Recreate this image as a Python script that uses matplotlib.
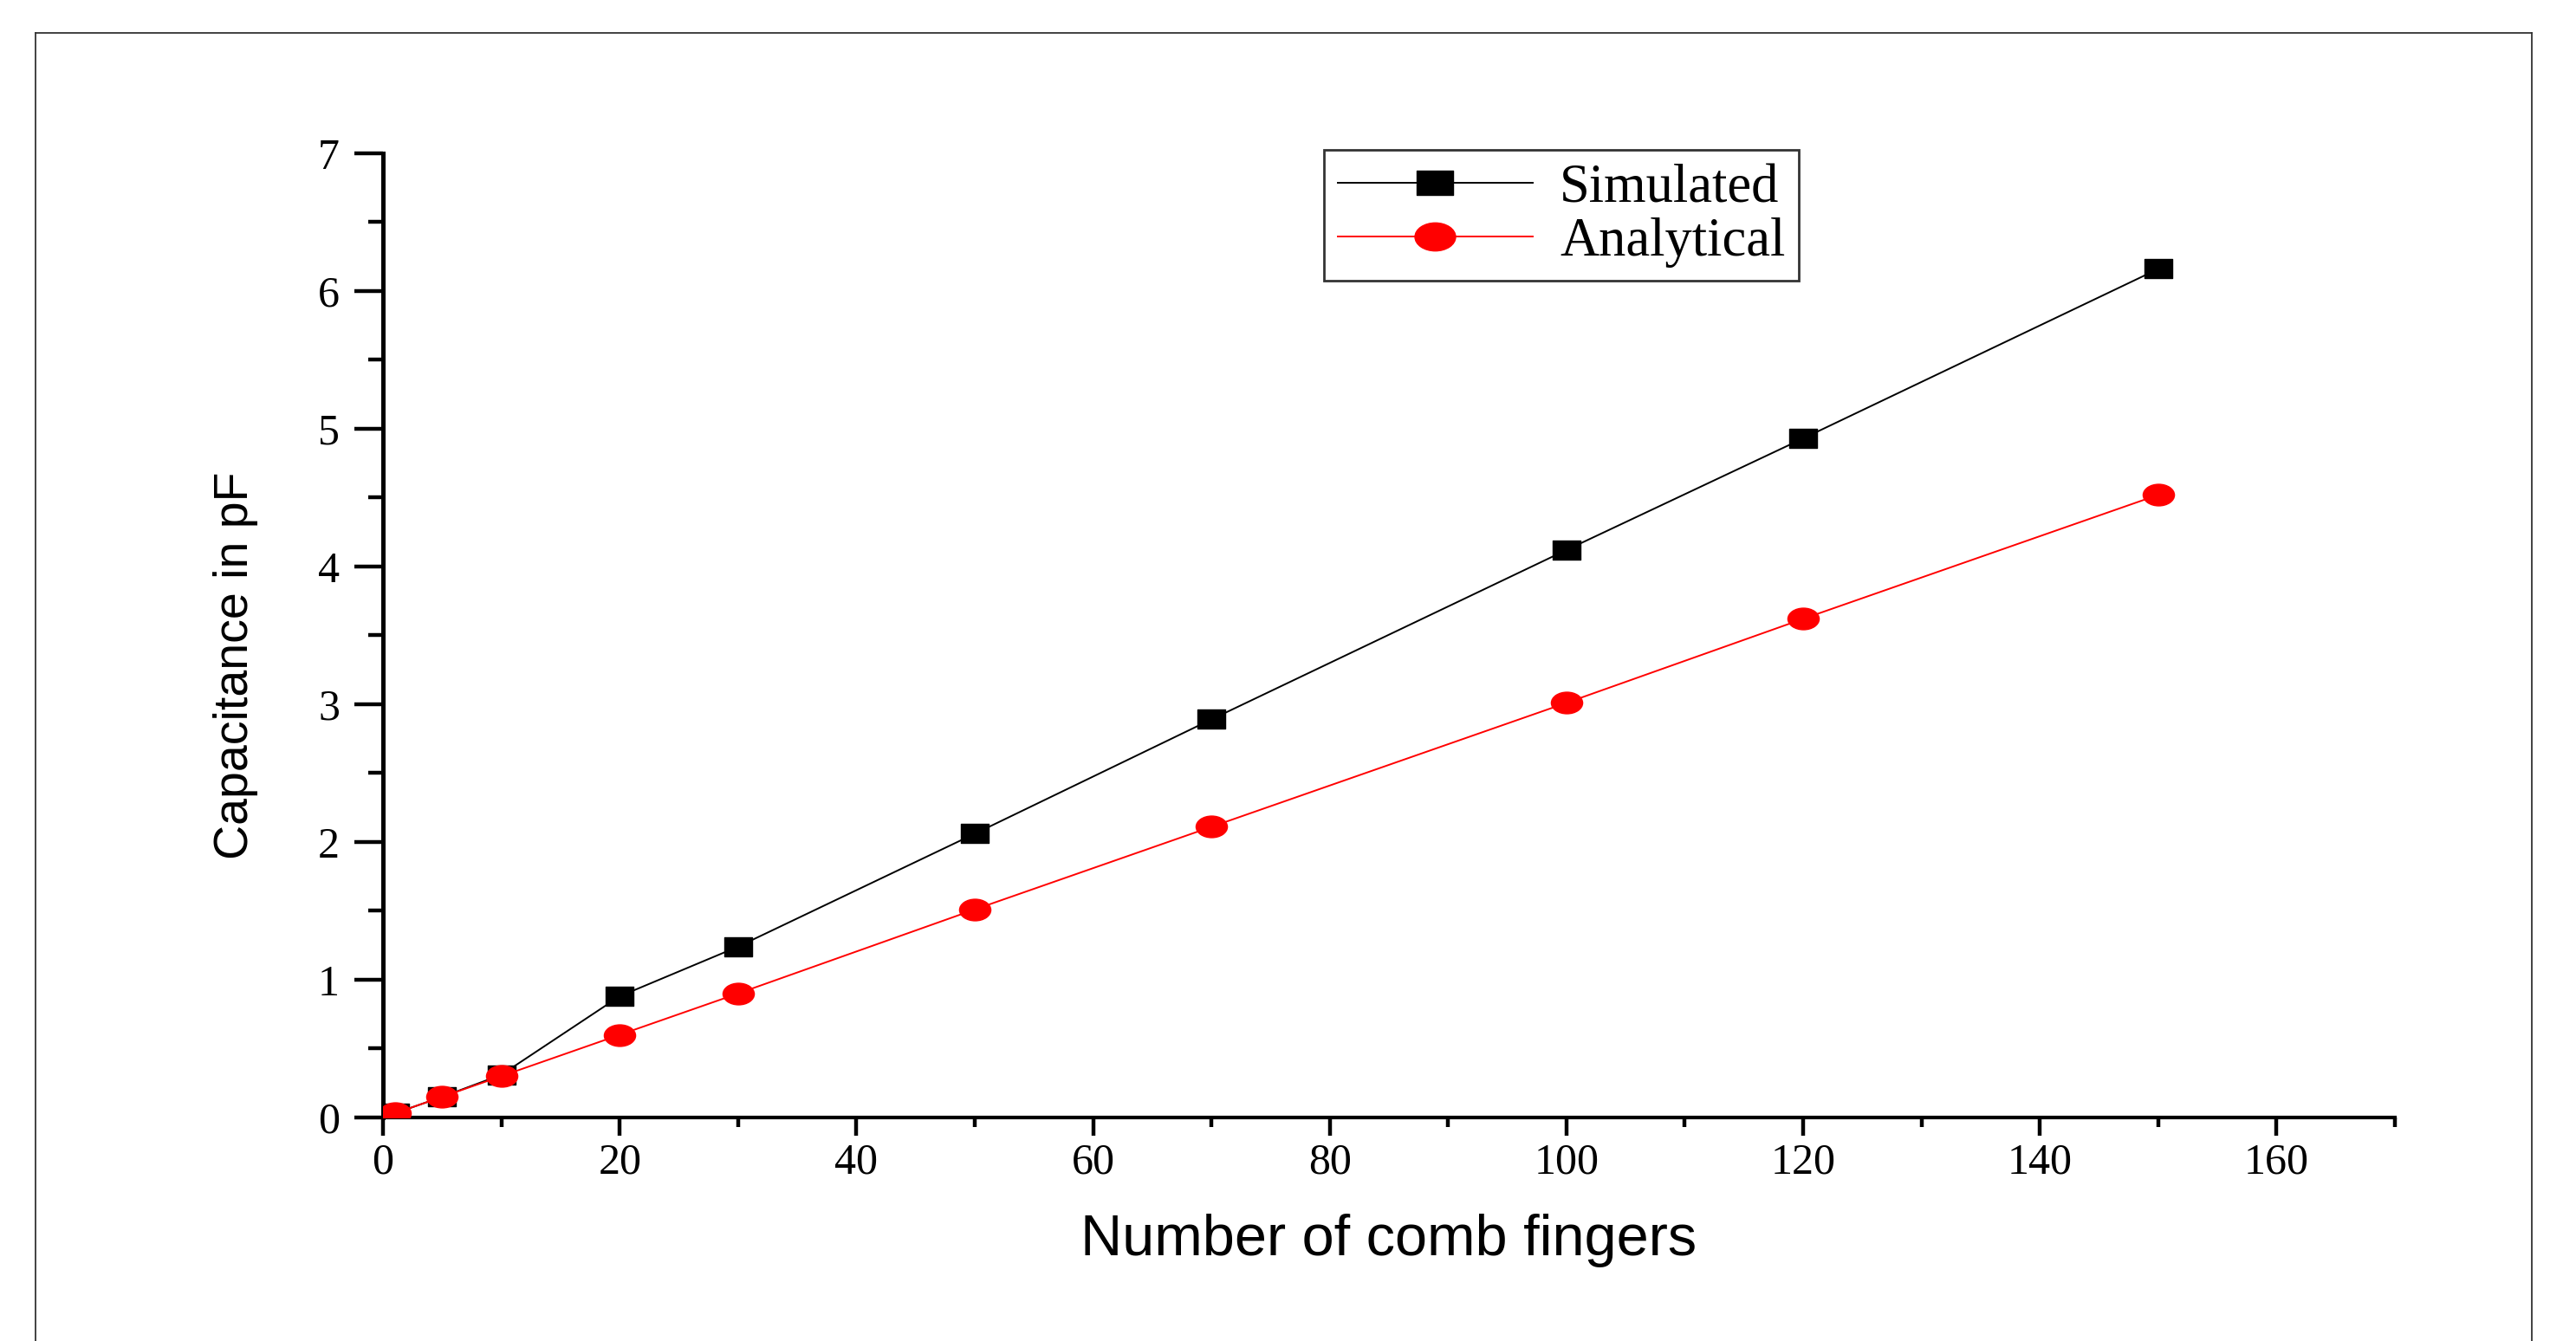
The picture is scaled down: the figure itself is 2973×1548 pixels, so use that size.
import matplotlib
matplotlib.use("Agg")
import matplotlib.pyplot as plt
from matplotlib.path import Path
from matplotlib.transforms import Affine2D
from matplotlib.ticker import MultipleLocator
from matplotlib.lines import Line2D

# data
fingers = [1, 5, 10, 20, 30, 50, 70, 100, 120, 150]
simulated = [0.03, 0.15, 0.31, 0.88, 1.24, 2.06, 2.89, 4.12, 4.93, 6.16]
analytical = [0.03, 0.15, 0.30, 0.60, 0.90, 1.51, 2.11, 3.01, 3.62, 4.52]

# the source picture is stretched sideways, so markers are a bit wider than tall
wide_circle = Path.unit_circle().transformed(Affine2D().scale(1.45, 1.0))
wide_square = Path.unit_rectangle().transformed(Affine2D().translate(-0.5, -0.5).scale(1.45, 1.0))

fig = plt.figure(figsize=(29.73, 15.48), dpi=100)
ax = fig.add_axes([0.1487, 0.1667, 0.7810, 0.7190])

ax.plot(fingers, simulated, color='black', lw=1.4, marker=wide_square,
        markersize=23, label='Simulated', zorder=3)
ax.plot(fingers, analytical, color='red', lw=1.4, marker=wide_circle,
        markersize=26, label='Analytical', zorder=4)

ax.set_xlim(0, 170)
ax.set_ylim(0, 7)
ax.set_xticks(range(0, 161, 20))
ax.xaxis.set_minor_locator(MultipleLocator(10))
ax.yaxis.set_major_locator(MultipleLocator(1))
ax.yaxis.set_minor_locator(MultipleLocator(0.5))

for s in ['top', 'right']:
    ax.spines[s].set_visible(False)
ax.spines['left'].set_linewidth(3.6)
ax.spines['bottom'].set_linewidth(3.0)

ax.tick_params(axis='x', which='major', direction='out', length=15, width=3.2, pad=6)
ax.tick_params(axis='x', which='minor', direction='out', length=8, width=3.2)
ax.tick_params(axis='y', which='major', direction='out', length=24, width=3.2, pad=12)
ax.tick_params(axis='y', which='minor', direction='out', length=12, width=3.2)
for lab in ax.get_xticklabels() + ax.get_yticklabels():
    lab.set_fontfamily('Liberation Serif')
    lab.set_fontsize(36)

ax.set_xlabel('Number of comb fingers', fontfamily='Liberation Sans', fontsize=48)
ax.set_ylabel('Capacitance in pF', fontfamily='Liberation Sans', fontsize=40)
ax.xaxis.set_label_coords(0.5, -0.1)
ax.yaxis.set_label_coords(-0.062, 0.469)

leg = ax.legend(loc='upper left', bbox_to_anchor=(0.514, 0.888),
                bbox_transform=fig.transFigure, frameon=True, fancybox=False,
                edgecolor='black', prop={'family': 'Liberation Serif', 'size': 45},
                handlelength=3.6, labelspacing=0.06, borderpad=0.25,
                handletextpad=0.5, markerscale=1.3, borderaxespad=0)
leg.get_frame().set_linewidth(2.0)

# thin page frame around the figure
fx0, fx1, fy1 = 41 / 2973, 2922 / 2973, 1 - 38 / 1548
for xs, ys in [([fx0, fx0], [0, fy1]), ([fx0, fx1], [fy1, fy1]), ([fx1, fx1], [fy1, 0])]:
    fig.add_artist(Line2D(xs, ys, color='#333333', lw=1.3, transform=fig.transFigure))

fig.savefig('out.png', dpi=100)
